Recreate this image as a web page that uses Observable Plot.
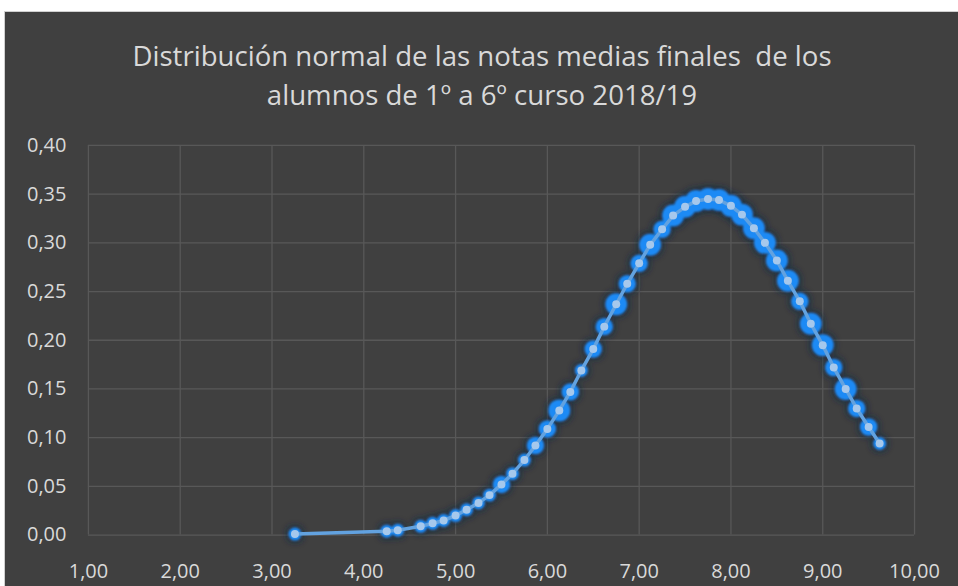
<!DOCTYPE html>
<html>
<head>
<meta charset="utf-8">
<script src="https://cdn.jsdelivr.net/npm/d3@7"></script>
<script src="https://cdn.jsdelivr.net/npm/@observablehq/plot@0.6"></script>
<style>
  html, body { margin: 0; padding: 0; background: #ffffff; width: 958px; height: 586px; overflow: hidden; }
  #panel { position: absolute; left: 4px; top: 11px; width: 954px; height: 575px; background: #404040;
           border-top: 1px solid #d0d0d0; border-left: 1px solid #d0d0d0; box-sizing: border-box; }
  #title { position: absolute; left: 0; top: 24px; width: 954px; text-align: center; color: #d9d9d9;
           font-family: "Open Sans", sans-serif; font-size: 27.6px; line-height: 39px; white-space: pre; }
  #chart { position: absolute; left: 0; top: 109px; }
</style>
</head>
<body>
<div id="panel">
  <div id="title">Distribución normal de las notas medias finales  de los
alumnos de 1º a 6º curso 2018/19</div>
  <div id="chart"></div>
</div>
<script>
const notas = [3.25, 4.25, 4.37, 4.62, 4.75, 4.87, 5.00, 5.12, 5.25, 5.37, 5.50, 5.62, 5.75, 5.87, 6.00, 6.13, 6.25, 6.37, 6.50, 6.62, 6.75, 6.87, 7.00, 7.12, 7.25, 7.37, 7.50, 7.62, 7.75, 7.87, 8.00, 8.12, 8.25, 8.37, 8.50, 8.62, 8.75, 8.87, 9.00, 9.12, 9.25, 9.37, 9.50, 9.62];
const densidad = [0.001, 0.004, 0.005, 0.009, 0.012, 0.015, 0.020, 0.026, 0.033, 0.041, 0.052, 0.063, 0.077, 0.092, 0.109, 0.128, 0.147, 0.169, 0.191, 0.214, 0.237, 0.258, 0.279, 0.298, 0.314, 0.328, 0.337, 0.343, 0.345, 0.344, 0.338, 0.329, 0.315, 0.300, 0.282, 0.261, 0.240, 0.217, 0.195, 0.172, 0.150, 0.130, 0.111, 0.094];
const alumnos = [1, 1, 1, 1, 1, 1, 1, 1, 1, 1, 2, 1, 1, 2, 2, 3, 2, 1, 2, 2, 3, 2, 2, 3, 2, 3, 3, 3, 3, 3, 3, 3, 3, 3, 3, 3, 2, 3, 3, 2, 3, 2, 2, 1];
const xTicks = [1, 2, 3, 4, 5, 6, 7, 8, 9, 10];
const yTicks = [0, 0.05, 0.10, 0.15, 0.20, 0.25, 0.30, 0.35, 0.40];

const data = notas.map((x, i) => ({x, y: densidad[i], n: alumnos[i]}));
const fmt = d => d.toFixed(2).replace(".", ",");

const HALO = "#0e2440", GLOW = "#1f8af5";

const chart = Plot.plot({
  width: 954,
  height: 466,
  marginLeft: 83,
  marginRight: 44,
  marginTop: 24,
  marginBottom: 52,
  style: {background: "transparent", color: "#d9d9d9", fontFamily: "'Open Sans', sans-serif", fontSize: "20px", overflow: "visible"},
  x: {domain: [1, 10], ticks: xTicks, tickFormat: fmt, tickSize: 0, tickPadding: 29, label: null},
  y: {domain: [0, 0.4], ticks: yTicks, tickFormat: fmt, tickSize: 0, tickPadding: 22, label: null},
  r: {type: "linear", domain: [1, 3], range: [6.5, 11]},
  marks: [
    Plot.ruleX(xTicks, {x: d => d, stroke: "#585858", strokeWidth: 1.3}),
    Plot.ruleY(yTicks, {y: d => d, stroke: "#585858", strokeWidth: 1.3}),
    Plot.dot(data, {x: "x", y: "y", r: "n", fill: HALO, fillOpacity: 0.6, stroke: "none"}),
    Plot.dot(data, {x: "x", y: "y", r: "n", fill: GLOW, fillOpacity: 1, stroke: "none"}),
    Plot.line(data, {x: "x", y: "y", stroke: "#62a2e0", strokeWidth: 3.5, curve: "linear"}),
    Plot.dot(data, {x: "x", y: "y", r: 4, fill: "#a6c8ec", stroke: "none"})
  ]
});

const svg = chart;
const NS = "http://www.w3.org/2000/svg";
const defs = document.createElementNS(NS, "defs");
function makeFilter(id, dilate, blur) {
  const f = document.createElementNS(NS, "filter");
  f.setAttribute("id", id);
  f.setAttribute("x", "-100%"); f.setAttribute("y", "-100%");
  f.setAttribute("width", "300%"); f.setAttribute("height", "300%");
  if (dilate) {
    const m = document.createElementNS(NS, "feMorphology");
    m.setAttribute("operator", "dilate"); m.setAttribute("radius", dilate);
    f.appendChild(m);
  }
  const b = document.createElementNS(NS, "feGaussianBlur");
  b.setAttribute("stdDeviation", blur);
  f.appendChild(b);
  defs.appendChild(f);
}
makeFilter("fhalo", 2.5, 3);
makeFilter("fglow", 0, 1.3);
svg.insertBefore(defs, svg.firstChild);
svg.querySelectorAll("g").forEach(el => {
  const fill = (el.getAttribute("fill") || "").toLowerCase();
  if (fill === HALO) el.setAttribute("filter", "url(#fhalo)");
  if (fill === GLOW) el.setAttribute("filter", "url(#fglow)");
});
document.getElementById("chart").appendChild(chart);
</script>
</body>
</html>
